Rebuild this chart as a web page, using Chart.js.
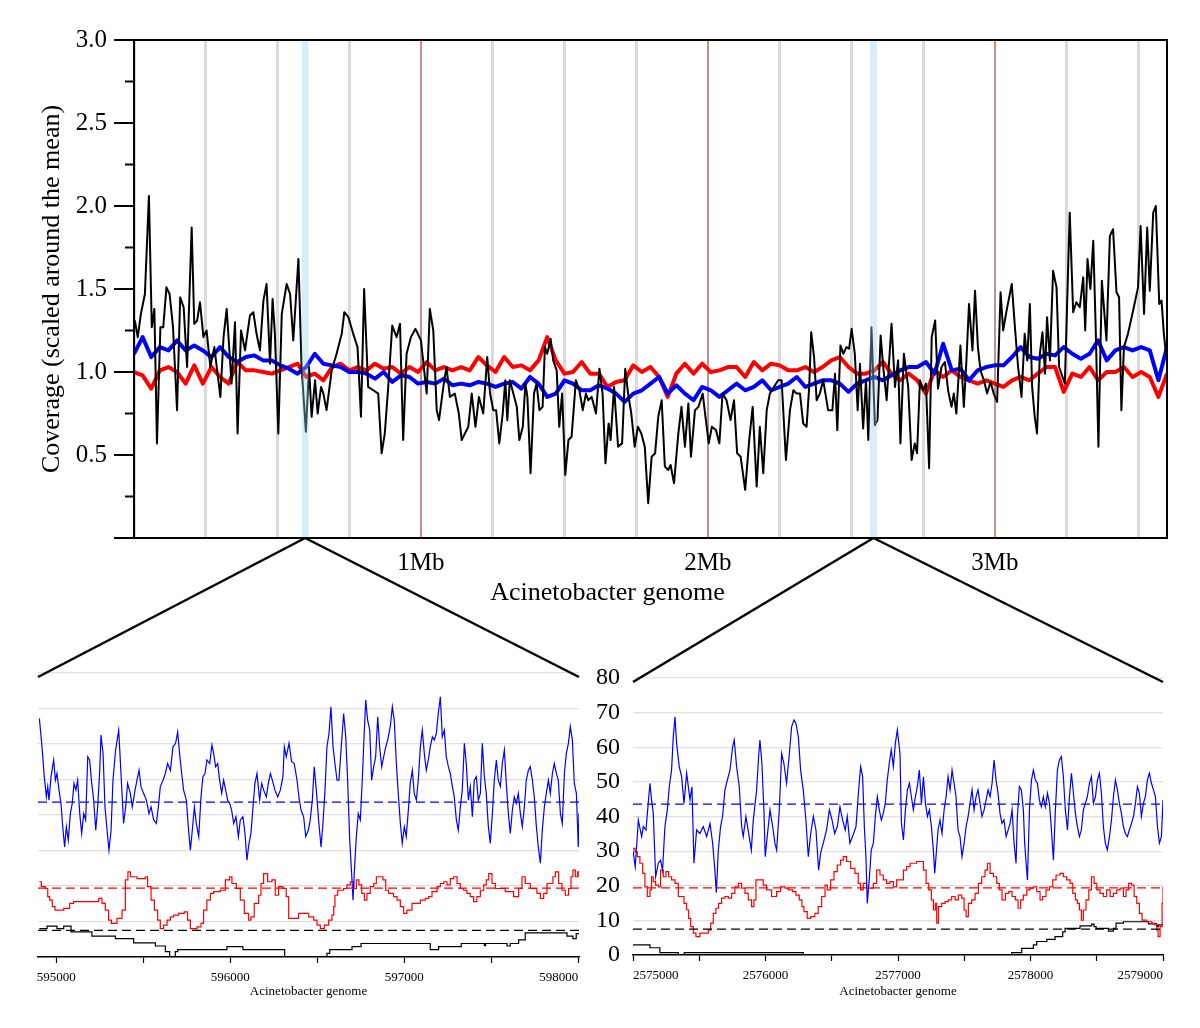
<!DOCTYPE html>
<html>
<head>
<meta charset="utf-8">
<title>Acinetobacter coverage</title>
<script src="https://cdn.jsdelivr.net/npm/chart.js@4.4.1/dist/chart.umd.min.js"></script>
<style>
    body { margin: 0; background: #fff; }
    #page { position: relative; width: 1200px; height: 1028px; overflow: hidden; }
    canvas { position: absolute; }
</style>
</head>
<body>
<div id="page">
    <canvas id="genomeChart" width="1200" height="620" style="left:0;top:0;width:1200px;height:620px"></canvas>
    <canvas id="leftZoom" width="600" height="388" style="left:0;top:640px;width:600px;height:388px"></canvas>
    <canvas id="rightZoom" width="610" height="388" style="left:590px;top:640px;width:610px;height:388px"></canvas>
    <canvas id="connectors" width="1200" height="1028" style="left:0;top:0;width:1200px;height:1028px;pointer-events:none"></canvas>
</div>
<script>
// ---- whole genome (top panel) ----
const genomeLength = 3600000;
const windowStep = 30000;             // red / blue windows
const gridStep = 250000;
const genomeTitle = 'Acinetobacter genome';

// black track: [position kb, scaled coverage]
const blackTrack = [
    [3,1.31],[13,1.21],[24,1.35],[38,1.47],[52,2.06],[62,1.27],[71,1.38],[80,0.57],[92,1.27],[102,1.27],
    [113,1.51],[124,1.47],[136,1.27],[150,0.77],[161,1.45],[173,1.39],[185,1.03],[201,1.87],[210,1.29],[220,1.31],
    [230,1.42],[242,1.21],[253,1.25],[266,1.03],[280,1.15],[301,0.85],[312,1.21],[323,1.38],[340,0.93],[352,1.30],
    [361,0.63],[373,1.25],[387,1.13],[404,1.34],[416,1.36],[427,1.23],[439,1.13],[451,1.43],[462,1.53],[474,1.05],
    [483,1.44],[491,1.23],[503,0.63],[515,1.35],[532,1.53],[544,1.47],[555,1.19],[573,1.68],[584,1.03],[599,0.64],
    [610,1.03],[619,0.73],[631,0.95],[640,0.75],[652,0.91],[660,0.87],[671,0.77],[689,1.01],[706,1.11],[724,1.23],
    [733,1.36],[747,1.33],[764,1.23],[779,1.15],[791,0.73],[802,1.50],[816,0.91],[834,0.89],[851,0.87],[863,0.51],
    [874,0.63],[886,0.91],[900,1.28],[915,1.21],[927,1.29],[938,0.59],[950,1.11],[965,1.21],[981,1.26],[1000,1.19],
    [1020,0.87],[1031,1.38],[1043,1.25],[1055,0.77],[1063,0.71],[1078,0.91],[1089,1.03],[1101,0.85],[1118,0.87],[1132,0.75],
    [1142,0.59],[1165,0.67],[1177,0.87],[1190,0.67],[1202,0.85],[1217,0.75],[1231,1.09],[1241,0.87],[1252,0.77],[1262,0.77],
    [1273,0.57],[1285,0.75],[1294,0.95],[1301,0.71],[1310,0.95],[1322,0.87],[1334,0.79],[1343,0.59],[1355,0.67],[1364,0.93],
    [1371,0.85],[1382,0.39],[1394,0.87],[1403,0.93],[1413,0.77],[1424,0.79],[1432,1.15],[1440,1.11],[1452,1.20],[1461,1.07],
    [1473,1.01],[1482,0.67],[1492,0.87],[1503,0.38],[1514,0.59],[1525,0.61],[1540,0.95],[1552,0.89],[1564,0.77],[1575,0.87],
    [1583,0.83],[1595,0.85],[1610,0.75],[1622,1.02],[1633,0.87],[1643,0.45],[1654,0.69],[1661,0.59],[1673,0.91],[1687,0.55],
    [1701,0.57],[1712,1.02],[1722,0.87],[1733,0.75],[1745,0.55],[1756,0.67],[1768,0.63],[1780,0.55],[1792,0.21],[1804,0.49],
    [1816,0.51],[1827,0.73],[1839,0.83],[1850,0.43],[1862,0.41],[1870,0.44],[1882,0.33],[1897,0.63],[1908,0.79],[1920,0.55],
    [1932,0.81],[1941,0.49],[1955,0.77],[1967,0.79],[1982,0.87],[1993,0.71],[2003,0.57],[2014,0.67],[2028,0.65],[2040,0.57],
    [2051,0.87],[2065,0.83],[2079,0.71],[2091,0.83],[2102,0.51],[2114,0.49],[2130,0.29],[2144,0.59],[2156,0.79],[2170,0.31],
    [2181,0.67],[2193,0.39],[2205,0.77],[2216,0.87],[2230,0.91],[2245,0.95],[2257,0.95],[2272,0.47],[2286,0.77],[2298,0.89],
    [2309,0.87],[2321,0.87],[2332,0.69],[2344,0.67],[2353,0.91],[2360,1.24],[2370,1.09],[2379,0.83],[2390,0.87],[2402,0.95],
    [2419,0.77],[2434,0.77],[2443,0.99],[2451,0.65],[2462,1.16],[2472,1.11],[2483,1.15],[2492,1.14],[2501,1.26],[2512,1.11],
    [2522,0.77],[2530,1.05],[2541,0.66],[2551,0.95],[2559,0.59],[2570,1.27],[2582,0.68],[2591,0.71],[2602,1.22],[2611,1.03],
    [2623,0.83],[2640,1.29],[2652,0.91],[2663,1.07],[2671,0.57],[2683,1.11],[2698,0.91],[2710,0.47],[2721,0.57],[2729,0.51],
    [2739,0.95],[2750,0.89],[2760,0.93],[2771,0.42],[2780,1.21],[2792,1.31],[2802,0.90],[2814,1.03],[2826,1.06],[2837,0.89],
    [2849,0.79],[2857,0.87],[2866,0.75],[2880,1.16],[2892,0.79],[2901,1.07],[2910,1.41],[2922,1.13],[2931,1.49],[2941,1.15],
    [2950,1.01],[2962,0.95],[2973,0.87],[2985,0.94],[2996,0.87],[3008,0.82],[3020,1.48],[3029,1.25],[3041,1.37],[3059,1.53],
    [3070,1.27],[3081,1.03],[3093,0.85],[3104,1.23],[3113,1.07],[3122,1.41],[3130,0.91],[3139,0.73],[3147,0.63],[3157,1.11],
    [3166,1.24],[3175,0.99],[3182,1.33],[3192,1.07],[3203,1.61],[3215,1.51],[3224,1.03],[3244,0.93],[3261,1.96],[3273,1.36],
    [3284,1.42],[3296,1.39],[3308,1.57],[3315,1.25],[3323,1.68],[3333,1.50],[3343,1.79],[3352,1.23],[3361,0.55],[3373,1.55],
    [3389,1.19],[3401,1.82],[3412,1.86],[3424,1.48],[3433,1.45],[3441,0.77],[3450,1.15],[3464,1.23],[3482,1.37],[3499,1.51],
    [3508,1.88],[3520,1.35],[3531,1.87],[3540,1.49],[3552,1.96],[3561,2.00],[3573,1.41],[3581,1.43],[3589,1.23],[3598,1.09]
];

// red and blue tracks, one value per 30 kb window
const redCov = [
    1.00,0.98,0.90,1.01,1.03,1.00,0.93,1.04,0.93,1.03,0.97,0.93,1.06,1.01,1.01,1.00,0.99,1.01,1.03,1.05,
    0.97,0.99,0.95,1.03,1.05,1.01,1.03,1.01,1.05,1.02,1.03,0.99,1.03,1.00,1.06,1.01,1.03,1.01,1.03,1.01,
    1.09,1.04,1.00,1.09,1.03,1.04,1.01,1.07,1.21,1.07,0.99,1.00,1.06,0.99,0.99,0.91,0.94,0.95,1.04,1.00,
    1.03,0.97,0.85,0.99,1.05,0.99,1.05,1.00,1.01,1.03,1.03,0.97,1.06,1.01,1.05,1.04,1.01,1.01,1.03,1.00,
    1.03,1.07,1.09,1.03,0.99,0.99,1.01,1.06,0.99,0.95,0.99,0.95,0.87,1.01,0.97,1.01,0.97,0.95,0.93,0.95,
    0.93,0.91,0.95,0.97,0.95,0.99,1.03,1.03,0.88,0.99,0.97,1.03,0.95,1.00,1.00,1.03,0.97,1.00,0.97,0.85,
    0.99
];
const blueCov = [
    1.11,1.21,1.09,1.15,1.13,1.19,1.13,1.16,1.13,1.09,1.15,1.09,1.06,1.09,1.10,1.07,1.07,1.04,1.02,0.99,
    1.03,1.11,1.05,1.04,1.03,1.00,1.00,0.99,0.96,1.00,0.94,0.98,0.97,0.93,0.94,0.93,0.96,0.92,0.93,0.92,
    0.94,0.93,0.91,0.93,0.94,0.90,0.97,0.93,0.85,0.87,0.95,0.93,0.89,0.89,0.92,0.90,0.87,0.82,0.87,0.89,
    0.93,0.97,0.87,0.92,0.87,0.83,0.91,0.89,0.85,0.89,0.93,0.89,0.91,0.95,0.89,0.91,0.93,0.97,0.91,0.93,
    0.95,0.95,0.93,0.88,0.93,0.95,0.97,0.95,0.98,1.01,1.03,1.03,1.06,0.99,1.17,1.01,1.02,0.95,1.01,1.03,
    1.04,1.04,1.09,1.15,1.09,1.08,1.11,1.10,1.15,1.11,1.08,1.11,1.19,1.07,1.13,1.15,1.13,1.15,1.13,0.95,
    1.15
];

// ---- zoomed regions (bottom panels): [bp, reads] ----
const leftRange = [594895, 598005];
const rightRange = [2575000, 2579000];
const meanBlue = 43.6, meanRed = 19.4, meanBlack = 7.5;

const leftBlue = [
    [594903,67.2],[594918,59.2],[594931,50.8],[594943,45.1],[594951,48.0],[594958,44.2],[594970,50.8],[594985,55.5],[594995,49.8],[595004,51.7],
    [595016,47.0],[595027,43.3],[595039,35.7],[595048,31.0],[595058,36.7],[595069,32.9],[595081,40.4],[595092,43.3],[595102,48.9],[595113,47.0],
    [595123,49.8],[595135,40.4],[595146,34.8],[595158,40.4],[595169,38.6],[595181,56.4],[595192,55.5],[595202,49.8],[595215,44.2],[595227,35.7],
    [595238,42.3],[595250,52.6],[595257,62.5],[595269,57.3],[595280,42.3],[595292,35.7],[595303,30.1],[595315,35.7],[595326,49.8],[595341,58.3],
    [595359,63.9],[595372,51.7],[595387,37.6],[595399,42.3],[595410,48.9],[595426,46.1],[595437,42.3],[595453,47.0],[595464,49.8],[595476,52.6],
    [595487,48.0],[595502,46.1],[595518,44.2],[595533,40.4],[595545,42.3],[595560,38.6],[595575,37.6],[595587,42.3],[595598,48.0],[595614,49.8],
    [595627,51.7],[595640,54.5],[595656,52.6],[595671,59.2],[595686,60.2],[595698,63.4],[595709,57.3],[595721,51.7],[595732,47.0],[595748,44.2],
    [595759,36.7],[595771,30.1],[595782,35.7],[595794,42.3],[595805,37.6],[595819,33.9],[595832,45.1],[595843,50.8],[595855,51.7],[595866,55.5],
    [595882,54.5],[595895,59.7],[595905,57.3],[595916,53.6],[595928,54.5],[595939,49.8],[595951,46.1],[595962,49.8],[595974,47.0],[595985,44.2],
    [595997,43.3],[596008,41.4],[596020,37.6],[596033,39.5],[596047,33.9],[596058,38.6],[596073,39.5],[596085,34.8],[596096,27.3],[596108,32.0],
    [596119,34.8],[596131,42.3],[596142,48.9],[596154,51.7],[596169,44.2],[596181,48.9],[596192,47.0],[596208,45.1],[596219,48.9],[596231,51.7],
    [596242,49.8],[596257,47.0],[596273,45.1],[596288,47.0],[596303,50.8],[596311,59.2],[596322,56.4],[596338,60.2],[596353,55.0],[596368,54.5],
    [596384,49.8],[596395,45.1],[596407,41.4],[596422,39.5],[596434,33.9],[596449,35.7],[596460,38.6],[596472,44.2],[596483,53.6],[596495,47.0],
    [596508,38.6],[596522,31.0],[596533,37.6],[596545,47.0],[596556,59.2],[596568,63.0],[596579,70.5],[596591,59.2],[596602,54.5],[596614,49.8],
    [596625,49.8],[596637,58.3],[596652,68.6],[596664,62.0],[596675,49.8],[596687,32.9],[596698,23.5],[596706,16.0],[596713,23.5],[596725,33.9],
    [596736,40.4],[596748,38.6],[596759,49.8],[596771,63.9],[596779,72.4],[596790,66.7],[596802,63.9],[596813,49.8],[596825,53.6],[596836,56.4],
    [596848,67.7],[596859,59.2],[596871,53.6],[596882,56.4],[596894,59.2],[596905,61.1],[596920,64.9],[596932,70.5],[596943,66.7],[596955,54.5],
    [596966,46.1],[596978,37.6],[596989,32.0],[597001,36.7],[597012,33.9],[597024,41.4],[597035,48.9],[597047,52.6],[597058,46.1],[597070,44.2],
    [597081,49.8],[597093,59.2],[597104,63.9],[597116,57.3],[597127,52.6],[597139,55.5],[597150,59.2],[597162,62.0],[597173,61.1],[597185,63.0],
    [597196,68.6],[597208,73.3],[597219,62.0],[597231,63.9],[597242,56.4],[597254,53.6],[597265,51.7],[597277,48.0],[597288,45.1],[597300,38.6],
    [597311,35.7],[597323,42.3],[597334,47.0],[597346,60.2],[597357,54.5],[597369,44.2],[597380,48.0],[597392,39.5],[597403,49.8],[597415,50.8],
    [597426,44.2],[597438,46.1],[597449,60.2],[597461,50.8],[597472,46.1],[597484,36.7],[597495,32.0],[597507,40.4],[597518,49.8],[597530,55.5],
    [597541,49.8],[597553,48.0],[597564,54.5],[597576,58.3],[597587,48.9],[597599,40.4],[597610,34.8],[597622,41.4],[597633,45.1],[597645,43.3],
    [597656,46.1],[597668,40.4],[597679,36.7],[597691,42.3],[597702,49.8],[597714,52.6],[597725,53.6],[597737,49.8],[597748,45.1],[597760,36.7],
    [597771,31.0],[597783,26.4],[597794,35.7],[597806,42.3],[597817,46.1],[597829,49.8],[597840,46.1],[597852,51.7],[597863,54.5],[597875,51.7],
    [597886,49.8],[597898,40.4],[597909,37.6],[597921,51.7],[597932,57.3],[597944,60.2],[597955,64.9],[597967,61.1],[597978,48.9],[597990,46.1],
    [598001,31.0],[598005,40.4]
];
const leftRed = [
    [594903,21.2],[594914,19.8],[594937,19.3],[594951,17.0],[594962,16.0],[594977,14.2],[594993,13.2],[595043,13.7],[595077,15.1],[595100,15.6],
    [595244,16.5],[595263,15.1],[595282,13.2],[595301,10.4],[595317,9.5],[595349,10.9],[595378,13.2],[595397,21.7],[595412,24.0],[595426,22.6],
    [595464,22.1],[595512,22.6],[595525,19.8],[595545,16.0],[595564,13.2],[595583,10.4],[595598,8.0],[595617,9.0],[595637,10.4],[595656,11.3],
    [595675,11.8],[595704,12.3],[595736,12.7],[595755,10.4],[595771,8.0],[595809,8.5],[595832,9.5],[595847,13.2],[595866,16.0],[595886,17.9],
    [595905,18.4],[595943,18.8],[595972,21.7],[595997,22.6],[596010,20.7],[596035,19.3],[596058,16.0],[596081,12.3],[596106,10.4],[596119,11.3],
    [596138,15.1],[596163,17.4],[596177,20.7],[596192,23.5],[596215,21.2],[596240,21.7],[596259,17.4],[596278,19.8],[596303,19.3],[596322,17.0],
    [596336,10.9],[596393,12.3],[596451,11.3],[596480,10.4],[596499,9.0],[596518,8.0],[596541,9.0],[596566,10.4],[596585,11.8],[596595,14.2],
    [596602,17.4],[596618,18.8],[596652,19.3],[596671,20.3],[596690,21.2],[596710,19.3],[596725,21.7],[596740,20.3],[596756,17.9],[596771,16.0],
    [596786,17.9],[596805,19.8],[596825,20.7],[596840,22.6],[596878,21.7],[596894,18.8],[596911,17.9],[596939,17.0],[596959,16.0],[596978,14.2],
    [596997,12.3],[597016,13.2],[597045,15.1],[597093,16.0],[597121,16.5],[597141,17.0],[597160,18.4],[597189,19.8],[597208,20.7],[597227,21.2],
    [597246,20.3],[597265,22.1],[597284,22.6],[597304,20.7],[597323,19.3],[597342,18.8],[597361,17.9],[597380,17.0],[597399,15.6],[597418,17.0],
    [597438,18.8],[597457,20.3],[597472,21.7],[597486,23.5],[597505,20.7],[597524,19.3],[597581,18.4],[597629,17.0],[597658,19.3],[597677,22.6],
    [597696,20.7],[597725,19.3],[597763,17.9],[597783,16.5],[597802,17.9],[597821,20.7],[597855,22.6],[597869,24.0],[597888,20.7],[597907,18.8],
    [597926,17.4],[597945,19.3],[597959,22.6],[597970,24.5],[597984,22.6],[597997,24.0],[598005,22.6]
];
const leftBlack = [
    [594903,8.0],[594947,8.7],[595004,8.0],[595043,8.7],[595085,7.1],[595205,5.9],[595340,5.2],[595445,4.0],[595570,3.1],[595627,1.5],
    [595652,0],[595684,1.5],[595698,2.1],[595981,2.9],[596073,2.1],[596313,0],[596556,1.0],[596572,2.1],[596700,2.9],[596752,3.8],
    [597150,2.1],[597198,2.9],[597328,3.8],[597461,3.2],[597468,3.8],[597591,3.1],[597610,3.8],[597658,4.8],[597696,6.8],[597936,5.9],
    [597970,5.2],[597989,6.6],[598005,6.6]
];

const rightBlue = [
    [2574997,30.8],[2575017,25.5],[2575040,39.0],[2575065,34.2],[2575078,37.1],[2575098,36.1],[2575115,43.8],[2575128,49.6],[2575140,44.8],[2575153,40.9],
    [2575171,22.6],[2575191,26.5],[2575208,27.4],[2575223,24.5],[2575241,37.1],[2575259,41.9],[2575274,48.6],[2575291,53.4],[2575304,63.0],[2575317,68.8],
    [2575329,61.1],[2575349,54.4],[2575367,51.5],[2575385,43.8],[2575405,52.5],[2575430,44.8],[2575445,48.6],[2575460,26.5],[2575480,36.1],[2575505,35.1],
    [2575530,37.1],[2575556,34.2],[2575581,38.0],[2575601,32.3],[2575618,24.5],[2575629,18.0],[2575644,30.3],[2575661,37.1],[2575676,40.0],[2575694,47.7],
    [2575712,50.5],[2575732,53.4],[2575752,60.2],[2575764,62.1],[2575782,54.4],[2575802,48.6],[2575820,37.1],[2575832,34.2],[2575852,40.0],[2575873,35.1],
    [2575893,30.3],[2575908,39.0],[2575933,47.7],[2575948,57.3],[2575958,62.1],[2575973,55.3],[2575988,41.9],[2575998,28.4],[2576013,34.2],[2576034,41.9],
    [2576054,37.1],[2576071,32.3],[2576084,30.3],[2576104,41.9],[2576122,58.2],[2576139,55.3],[2576159,49.6],[2576180,58.2],[2576197,65.9],[2576215,67.9],
    [2576230,66.9],[2576248,63.0],[2576265,53.4],[2576285,47.7],[2576305,39.0],[2576323,28.4],[2576341,35.1],[2576361,40.0],[2576381,36.1],[2576401,24.5],
    [2576416,29.4],[2576436,32.3],[2576461,36.1],[2576482,41.9],[2576502,39.0],[2576522,35.1],[2576542,37.1],[2576562,42.8],[2576582,39.0],[2576602,36.1],
    [2576617,40.0],[2576637,32.3],[2576657,34.2],[2576683,37.1],[2576703,47.7],[2576718,54.4],[2576733,51.5],[2576746,37.1],[2576758,28.4],[2576768,14.9],
    [2576783,21.7],[2576798,30.3],[2576814,32.3],[2576829,40.0],[2576844,45.7],[2576859,41.9],[2576874,39.0],[2576889,40.9],[2576904,43.8],[2576919,50.5],
    [2576934,55.3],[2576949,59.2],[2576965,54.4],[2576980,61.1],[2576995,65.0],[2577015,58.2],[2577026,38.0],[2577041,33.2],[2577056,41.9],[2577071,47.7],
    [2577086,49.6],[2577101,45.7],[2577116,41.9],[2577131,45.7],[2577146,48.6],[2577161,53.4],[2577177,43.8],[2577192,51.5],[2577207,43.8],[2577222,40.0],
    [2577237,41.9],[2577252,37.1],[2577267,30.3],[2577277,23.6],[2577287,28.4],[2577302,36.1],[2577317,39.0],[2577332,35.1],[2577348,41.9],[2577363,45.7],
    [2577378,51.5],[2577393,47.7],[2577408,53.4],[2577423,49.6],[2577438,45.7],[2577453,36.1],[2577468,34.2],[2577483,28.4],[2577499,32.3],[2577514,37.1],
    [2577529,40.0],[2577544,43.8],[2577559,47.7],[2577574,41.9],[2577589,45.7],[2577604,47.7],[2577619,43.8],[2577634,40.0],[2577650,41.9],[2577665,44.8],
    [2577680,47.7],[2577695,45.7],[2577710,49.6],[2577725,56.3],[2577740,50.5],[2577755,46.7],[2577770,40.9],[2577785,38.0],[2577800,39.0],[2577816,34.2],
    [2577831,36.1],[2577846,38.0],[2577861,41.9],[2577876,32.3],[2577891,26.5],[2577901,40.0],[2577916,48.6],[2577931,47.7],[2577946,41.9],[2577956,32.3],
    [2577967,26.5],[2577977,21.7],[2577992,41.9],[2578007,50.5],[2578022,53.4],[2578037,50.5],[2578052,49.6],[2578067,44.8],[2578082,42.8],[2578097,45.7],
    [2578112,42.8],[2578128,46.7],[2578143,43.8],[2578158,36.1],[2578173,27.4],[2578188,41.9],[2578203,53.4],[2578218,56.3],[2578233,57.3],[2578248,51.5],
    [2578263,41.9],[2578279,36.1],[2578294,45.7],[2578309,52.5],[2578324,46.7],[2578339,40.9],[2578354,37.1],[2578369,34.2],[2578384,36.1],[2578399,41.9],
    [2578414,43.8],[2578429,45.7],[2578445,49.6],[2578460,51.5],[2578475,43.8],[2578490,45.7],[2578505,50.5],[2578520,52.5],[2578535,46.7],[2578550,37.1],
    [2578565,32.3],[2578580,30.3],[2578596,34.2],[2578611,39.0],[2578626,45.7],[2578641,50.5],[2578656,47.7],[2578671,43.8],[2578686,40.9],[2578701,37.1],
    [2578716,35.1],[2578731,34.2],[2578746,36.1],[2578762,38.0],[2578777,40.0],[2578792,43.8],[2578807,48.6],[2578822,46.7],[2578837,40.0],[2578852,43.8],
    [2578867,45.7],[2578882,50.5],[2578897,52.5],[2578913,49.6],[2578928,47.7],[2578943,45.7],[2578958,37.1],[2578973,32.3],[2578988,34.2],[2579000,44.8]
];
const rightRed = [
    [2574997,30.8],[2575015,29.8],[2575032,28.4],[2575052,26.5],[2575073,23.6],[2575090,19.7],[2575108,16.9],[2575128,18.8],[2575140,22.6],[2575153,21.2],
    [2575171,20.2],[2575191,19.7],[2575208,24.5],[2575229,22.6],[2575249,24.1],[2575269,22.6],[2575291,21.7],[2575317,20.7],[2575342,16.9],[2575385,14.9],
    [2575405,13.0],[2575420,10.6],[2575435,8.2],[2575455,6.3],[2575475,5.3],[2575505,6.3],[2575568,7.2],[2575586,9.2],[2575606,12.0],[2575626,13.5],
    [2575646,14.9],[2575669,16.4],[2575694,16.9],[2575719,16.4],[2575744,17.8],[2575769,19.7],[2575795,20.7],[2575820,19.3],[2575845,17.8],[2575870,15.9],
    [2575895,14.0],[2575913,15.9],[2575928,21.7],[2575983,20.2],[2576008,18.8],[2576046,16.9],[2576084,18.3],[2576114,19.7],[2576147,19.3],[2576172,18.8],
    [2576205,18.3],[2576230,17.3],[2576255,15.9],[2576275,14.0],[2576290,12.5],[2576315,10.6],[2576341,11.1],[2576373,12.0],[2576398,14.0],[2576424,16.9],
    [2576449,20.2],[2576466,18.8],[2576492,21.7],[2576517,24.1],[2576542,26.0],[2576567,27.4],[2576587,28.4],[2576612,27.0],[2576643,25.0],[2576675,23.6],
    [2576700,20.7],[2576718,18.8],[2576738,20.7],[2576763,19.3],[2576814,20.7],[2576839,24.5],[2576864,23.1],[2576889,21.7],[2576914,20.7],[2576939,21.2],
    [2576965,19.7],[2576990,21.7],[2577041,24.5],[2577066,25.5],[2577091,26.5],[2577141,27.0],[2577192,24.5],[2577212,20.7],[2577232,18.8],[2577252,15.9],
    [2577267,13.0],[2577282,14.9],[2577292,9.2],[2577305,14.0],[2577330,14.9],[2577355,15.4],[2577380,15.9],[2577405,16.9],[2577431,15.9],[2577456,17.3],
    [2577481,16.4],[2577499,13.0],[2577514,11.1],[2577531,14.9],[2577556,15.9],[2577582,17.8],[2577607,20.7],[2577632,22.6],[2577657,24.5],[2577675,26.5],
    [2577695,23.6],[2577720,22.6],[2577745,20.7],[2577765,18.8],[2577785,15.9],[2577811,17.8],[2577836,18.3],[2577861,16.9],[2577886,15.9],[2577906,13.5],
    [2577926,15.9],[2577946,17.3],[2577972,18.8],[2577997,19.3],[2578022,19.7],[2578047,18.3],[2578072,15.9],[2578092,16.9],[2578117,18.8],[2578143,19.7],
    [2578168,21.7],[2578193,23.1],[2578223,23.6],[2578248,22.6],[2578273,21.7],[2578299,20.7],[2578319,17.8],[2578339,15.9],[2578354,14.9],[2578369,13.0],
    [2578384,10.1],[2578399,13.0],[2578419,15.9],[2578440,18.8],[2578460,22.6],[2578480,20.7],[2578500,18.8],[2578525,17.8],[2578550,16.9],[2578575,18.8],
    [2578601,16.9],[2578626,17.8],[2578651,18.8],[2578676,19.3],[2578701,16.9],[2578721,18.8],[2578741,20.7],[2578762,20.2],[2578782,16.9],[2578802,14.9],
    [2578822,12.0],[2578842,10.1],[2578877,9.6],[2578915,9.2],[2578940,8.7],[2578953,7.2],[2578963,5.3],[2578978,8.2],[2578993,14.9],[2579000,19.7]
];
const rightBlack = [
    [2574997,2.9],[2575128,2.1],[2575203,0.7],[2575342,0],[2575387,0.7],[2576285,0],[2577858,0.7],[2577934,1.9],[2578022,2.9],[2578047,3.9],
    [2578123,4.5],[2578185,5.3],[2578243,6.7],[2578261,7.7],[2578374,8.4],[2578462,8.9],[2578480,8.2],[2578495,7.7],[2578588,6.9],[2578626,7.7],
    [2578646,9.2],[2578701,9.6],[2578890,9.0],[2578953,8.2],[2578965,8.7],[2579000,8.7]
];

const serif = "'Liberation Serif', 'Times New Roman', serif";
const toXY = pairs => pairs.map(([x, y]) => ({ x, y }));

// Frame around the genome plot, short/long y ticks and the x title
const framePlugin = {
    id: 'frame',
    afterDraw(chart) {
        const { ctx, chartArea: a, scales: { y } } = chart;
        ctx.save();
        ctx.strokeStyle = '#000';
        ctx.lineWidth = 2;
        ctx.strokeRect(a.left, a.top, a.right - a.left, a.bottom - a.top);
        y.ticks.forEach(t => {
            const py = y.getPixelForValue(t.value);
            const major = Math.abs(t.value * 2 - Math.round(t.value * 2)) < 1e-6;
            ctx.beginPath();
            ctx.moveTo(a.left - (major ? 20 : 9), py);
            ctx.lineTo(a.left, py);
            ctx.stroke();
        });
        // x title sits a little left of the plot centre
        ctx.fillStyle = '#000';
        ctx.font = '26px ' + serif;
        ctx.textAlign = 'center';
        ctx.textBaseline = 'alphabetic';
        ctx.fillText(genomeTitle, (a.left + a.right) / 2 - 43, a.bottom + 62);
        ctx.restore();
    }
};

// light blue bands marking the two zoomed regions
const zoomCenters = [(leftRange[0] + leftRange[1]) / 2, (rightRange[0] + rightRange[1]) / 2];
const bandPlugin = {
    id: 'bands',
    afterDatasetsDraw(chart) {
        const { ctx, chartArea: a, scales: { x } } = chart;
        ctx.save();
        ctx.fillStyle = 'rgba(150, 210, 232, 0.38)';
        zoomCenters.forEach(c => {
            const px = x.getPixelForValue(c);
            ctx.fillRect(px - 3.5, a.top, 7, a.bottom - a.top);
        });
        ctx.restore();
    }
};

const genomeChart = new Chart(document.getElementById('genomeChart'), {
    type: 'line',
    data: {
        datasets: [
            {
                label: 'black',
                data: blackTrack.map(([kb, v]) => ({ x: kb * 1000, y: v })),
                borderColor: '#000',
                borderWidth: 2
            },
            {
                label: 'blue',
                data: blueCov.map((v, i) => ({ x: i * windowStep, y: v })),
                borderColor: '#0000ff',
                borderWidth: 4
            },
            {
                label: 'red',
                data: redCov.map((v, i) => ({ x: i * windowStep, y: v })),
                borderColor: '#ff0000',
                borderWidth: 4
            }
        ]
    },
    options: {
        responsive: false,
        animation: false,
        devicePixelRatio: 1,
        layout: { padding: { top: 40, right: 33, left: 0, bottom: 0 } },
        elements: { point: { radius: 0 }, line: { tension: 0, borderJoinStyle: 'round' } },
        plugins: { legend: { display: false }, tooltip: { enabled: false } },
        scales: {
            x: {
                type: 'linear',
                min: 0,
                max: genomeLength,
                afterBuildTicks: axis => {
                    const ticks = [];
                    for (let v = 0; v < genomeLength; v += gridStep) ticks.push({ value: v });
                    axis.ticks = ticks;
                },
                afterFit: axis => { axis.height = 82; },
                border: { display: false },
                grid: {
                    drawTicks: false,
                    color: ctx => (ctx.tick && ctx.tick.value > 0 && ctx.tick.value % 1000000 === 0) ? '#bf9090' : '#dadada',
                    lineWidth: ctx => (ctx.tick && ctx.tick.value > 0 && ctx.tick.value % 1000000 === 0) ? 2 : 3
                },
                ticks: {
                    autoSkip: false,
                    maxRotation: 0,
                    padding: 10,
                    color: '#000',
                    font: { family: serif, size: 25 },
                    callback: v => (v > 0 && v % 1000000 === 0) ? (v / 1000000) + 'Mb' : ''
                }
            },
            y: {
                min: 0,
                max: 3,
                afterFit: axis => { axis.width = 134; },
                border: { display: false },
                grid: { display: false },
                ticks: {
                    stepSize: 0.25,
                    autoSkip: false,
                    padding: 19,
                    color: '#000',
                    font: { family: serif, size: 25 },
                    callback: v => (v > 0 && Math.abs(v * 2 - Math.round(v * 2)) < 1e-6) ? v.toFixed(1) : ''
                },
                title: {
                    display: true,
                    text: 'Coverage (scaled around the mean)',
                    color: '#000',
                    font: { family: serif, size: 26 },
                    padding: { top: 37, bottom: 0 }
                }
            }
        }
    },
    plugins: [bandPlugin, framePlugin]
});

// Zoomed panel builder
function zoomChart(canvasId, range, blue, red, black, opts) {
    const meanLine = v => [{ x: range[0], y: v }, { x: range[1], y: v }];
    return new Chart(document.getElementById(canvasId), {
        type: 'line',
        data: {
            datasets: [
                { data: meanLine(meanBlue), borderColor: '#0000ff', borderWidth: 1.3, borderDash: [9, 5] },
                { data: meanLine(meanRed), borderColor: '#ff0000', borderWidth: 1.3, borderDash: [9, 5] },
                { data: meanLine(meanBlack), borderColor: '#000', borderWidth: 1.3, borderDash: [9, 5] },
                { data: toXY(blue), borderColor: '#0000ff', borderWidth: 1.2 },
                { data: toXY(red), borderColor: '#ff0000', borderWidth: 1.2, stepped: true },
                { data: toXY(black), borderColor: '#000', borderWidth: 1.2, stepped: true }
            ]
        },
        options: {
            responsive: false,
            animation: false,
            devicePixelRatio: 1,
            layout: { padding: { top: opts.top, right: opts.right, left: 0, bottom: 0 } },
            elements: { point: { radius: 0 }, line: { tension: 0 } },
            plugins: { legend: { display: false }, tooltip: { enabled: false } },
            scales: {
                x: {
                    type: 'linear',
                    min: range[0],
                    max: range[1],
                    afterBuildTicks: axis => {
                        const ticks = opts.leadTick ? [{ value: range[0] }] : [];
                        for (let v = Math.ceil(range[0] / 500) * 500; v <= range[1]; v += 500) ticks.push({ value: v });
                        axis.ticks = ticks;
                    },
                    afterFit: axis => { axis.height = opts.axisHeight; },
                    border: { color: '#000', width: 1.5 },
                    grid: {
                        drawOnChartArea: false,
                        drawTicks: true,
                        tickLength: 6,
                        tickWidth: 1.2,
                        tickColor: ctx => (ctx.tick && ctx.tick.value % 500 === 0) ? '#000' : 'rgba(0,0,0,0)'
                    },
                    ticks: {
                        autoSkip: false,
                        maxRotation: 0,
                        align: 'inner',
                        padding: 7,
                        color: '#000',
                        font: { family: serif, size: 13 },
                        callback: v => v % 1000 === 0 ? String(v) : ''
                    },
                    title: {
                        display: true,
                        text: genomeTitle,
                        color: '#000',
                        font: { family: serif, size: 13 },
                        padding: { top: 0, bottom: 29 }
                    }
                },
                y: {
                    min: 0,
                    max: 80,
                    afterFit: axis => { axis.width = opts.axisWidth; },
                    border: { display: false },
                    grid: { color: '#e0e0e0', lineWidth: 1.2, drawTicks: false },
                    ticks: {
                        display: opts.showY,
                        stepSize: 10,
                        padding: 13,
                        color: '#000',
                        font: { family: serif, size: 24 }
                    }
                }
            }
        }
    });
}

const leftChart = zoomChart('leftZoom', leftRange, leftBlue, leftRed, leftBlack,
    { top: 33, right: 21, axisHeight: 71, axisWidth: 38, showY: false, leadTick: true });
const rightChart = zoomChart('rightZoom', rightRange, rightBlue, rightRed, rightBlack,
    { top: 38, right: 37, axisHeight: 73, axisWidth: 43, showY: true, leadTick: false });

// Lines joining each band to its zoomed panel
function drawConnectors() {
    const ctx = document.getElementById('connectors').getContext('2d');
    const top = genomeChart;
    const baseY = top.chartArea.bottom;
    const panels = [
        { chart: leftChart, center: zoomCenters[0], offX: 0, offY: 640 },
        { chart: rightChart, center: zoomCenters[1], offX: 590, offY: 640 }
    ];
    ctx.strokeStyle = '#000';
    ctx.lineWidth = 2.5;
    panels.forEach(p => {
        const apexX = top.scales.x.getPixelForValue(p.center);
        const a = p.chart.chartArea;
        [a.left, a.right].forEach(edge => {
            ctx.beginPath();
            ctx.moveTo(apexX, baseY);
            ctx.lineTo(edge + p.offX, a.top + p.offY + 4);
            ctx.stroke();
        });
    });
}
drawConnectors();
</script>
</body>
</html>
